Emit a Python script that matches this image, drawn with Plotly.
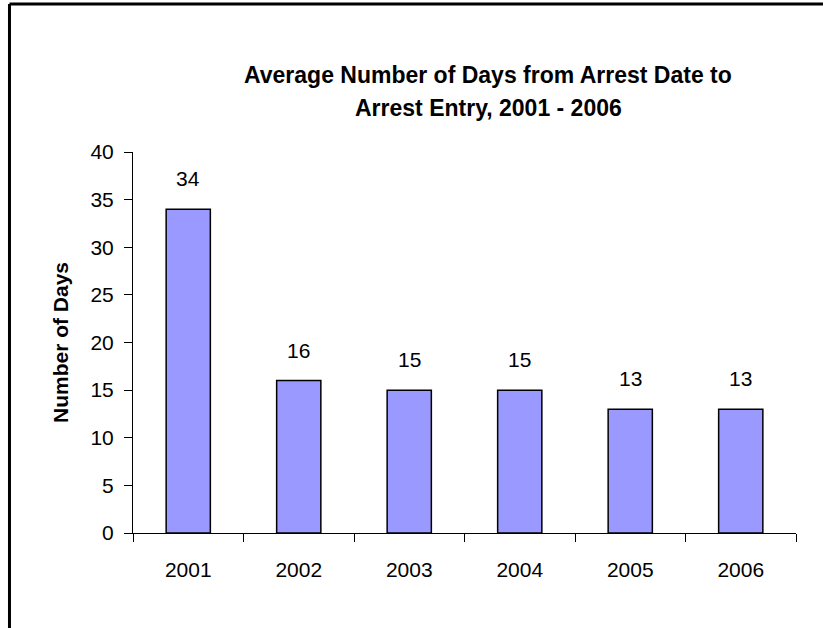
import plotly.graph_objects as go

years = ["2001", "2002", "2003", "2004", "2005", "2006"]
days = [34, 16, 15, 15, 13, 13]
title_lines = ["Average Number of Days from Arrest Date to", "Arrest Entry, 2001 - 2006"]
y_title = "Number of Days"

FONT = "Liberation Sans, Arial, sans-serif"

fig = go.Figure()
fig.add_trace(go.Bar(
    x=years, y=days,
    marker=dict(color="#9999FF", line=dict(color="#000000", width=1.5)),
    hoverinfo="x+y",
))

# data labels above bars (category index positions on the category axis)
for i, v in enumerate(days):
    fig.add_annotation(x=i, y=v, text=str(v), showarrow=False,
                       xref="x", yref="y", yanchor="bottom", yshift=17,
                       font=dict(family=FONT, size=21, color="#000000"))

# two-line title
fig.add_annotation(x=0.536, y=1.202, xref="paper", yref="paper", text="<b>%s</b>" % title_lines[0],
                   showarrow=False, xanchor="center", yanchor="middle",
                   font=dict(family=FONT, size=23, color="#000000"))
fig.add_annotation(x=0.536, y=1.1155, xref="paper", yref="paper", text="<b>%s</b>" % title_lines[1],
                   showarrow=False, xanchor="center", yanchor="middle",
                   font=dict(family=FONT, size=23, color="#000000"))

# outer frame (top and left edges)
fig.add_shape(type="line", xref="paper", yref="paper", x0=-0.1863, x1=1.0407, y0=1.3885, y1=1.3885,
              line=dict(color="#000000", width=3))
fig.add_shape(type="line", xref="paper", yref="paper", x0=-0.1863, x1=-0.1863, y0=1.3885, y1=-0.3,
              line=dict(color="#000000", width=3))

fig.update_layout(
    width=823, height=628,
    margin=dict(l=133, r=27, t=152, b=95),
    paper_bgcolor="#FFFFFF", plot_bgcolor="#FFFFFF",
    bargap=0.6,
    showlegend=False,
    font=dict(family=FONT, size=21, color="#000000"),
    xaxis=dict(
        type="category",
        range=[-0.5, len(years) - 0.5],
        showline=True, linecolor="#000000", linewidth=1,
        ticks="outside", ticklen=8, tickcolor="#000000", tickwidth=1,
        tickson="boundaries",
        tickangle=0,
        tickfont=dict(family=FONT, size=21, color="#000000"),
        ticklabelstandoff=18,
        showgrid=False, zeroline=False,
    ),
    yaxis=dict(
        range=[0, 40], dtick=5,
        showline=True, linecolor="#000000", linewidth=1,
        ticks="outside", ticklen=8, tickcolor="#000000", tickwidth=1,
        tickfont=dict(family=FONT, size=21, color="#000000"),
        ticklabelstandoff=6,
        showgrid=False, zeroline=False,
        title=dict(text="<b>%s</b>" % y_title, font=dict(family=FONT, size=21, color="#000000"), standoff=16),
    ),
)

fig.write_html("out.html", config={"displayModeBar": False},
               post_script="document.body.style.margin='0';document.body.style.overflow='hidden';")
